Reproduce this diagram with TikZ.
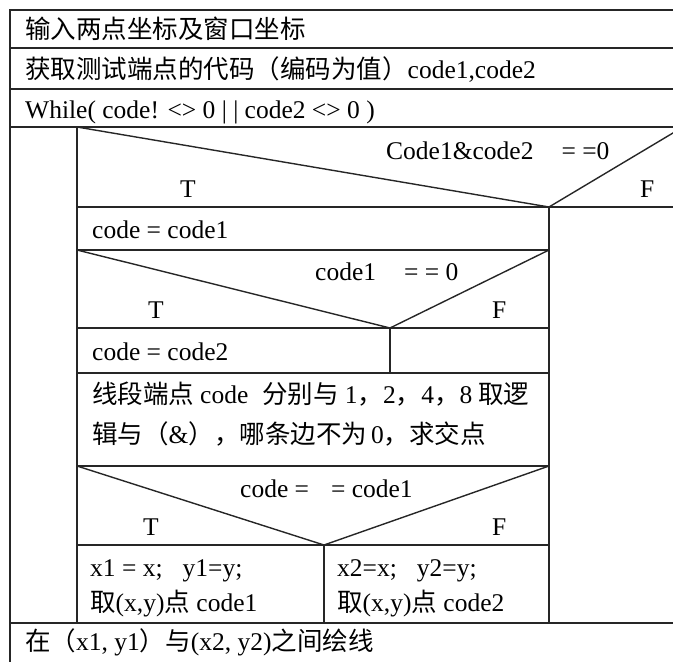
\documentclass[tikz,border=0pt]{standalone}
\usepackage{fontspec}
\setmainfont{Liberation Serif}
\newfontfamily\cjk{Noto Sans CJK SC}[Scale=1.0]
\begin{document}
\begin{tikzpicture}[x=1pt,y=-1pt,
  lbl/.style={anchor=base west,inner sep=0pt,font=\fontsize{25.5}{30}\selectfont},
  rule/.style={line width=1.4pt,draw=black!85}]
\useasboundingbox (0,0) rectangle (673,662);
\clip (0,0) rectangle (673,662);
% outer frame
\draw[rule] (10,662) -- (10,10) -- (690,10);
\draw[rule] (10,48) -- (690,48);
\draw[rule] (10,89) -- (690,89);
\draw[rule] (10,127) -- (690,127);
\draw[rule] (10,623) -- (690,623);
% inner column
\draw[rule] (77,127) -- (77,623);
\draw[rule] (549,207) -- (549,623);
\draw[rule] (77,207) -- (690,207);
\draw[rule] (77,250) -- (549,250);
\draw[rule] (77,328) -- (549,328);
\draw[rule] (77,373) -- (549,373);
\draw[rule] (77,466) -- (549,466);
\draw[rule] (77,545) -- (549,545);
\draw[rule] (390,328) -- (390,373);
\draw[rule] (324,545) -- (324,623);
% decision triangles
\draw[rule] (77,127) -- (549,207) -- (683,127);
\draw[rule] (77,250) -- (390,328) -- (549,250);
\draw[rule] (77,466) -- (324,545) -- (549,466);
% texts
\node[lbl] (t1) at (25,38) {\cjk 输入两点坐标及窗口坐标};
\node[lbl] (t2) at (25,78) {{\cjk 获取测试端点的代码（编码为值）}code1,code2};
\node[lbl] (t3) at (25,118) {While( code! <> 0 | | code2 <> 0 )};
\node[lbl] (c1) at (386,159) {Code1\&code2\hspace{28pt}= =0};
\node[lbl] (c1t) at (180,197) {T};
\node[lbl] (c1f) at (640,197) {F};
\node[lbl] (a1) at (92,238) {code = code1};
\node[lbl] (c2) at (315,280) {code1\hspace{28pt}= = 0};
\node[lbl] (c2t) at (148,318) {T};
\node[lbl] (c2f) at (492,318) {F};
\node[lbl] (a2) at (92,360) {code = code2};
\node[lbl] (p1) at (92,403) {{\cjk 线段端点}\hspace{6pt}code\hspace{14pt}{\cjk 分别与}\hspace{6pt}1{\cjk ，}2{\cjk ，}4{\cjk ，}8\hspace{6pt}{\cjk 取逻}};
\node[lbl] (p2) at (92,443) {{\cjk 辑与（}\&{\cjk ），哪条边不为}\hspace{4pt}0{\cjk ，求交点}};
\node[lbl] (c3) at (240,497) {code =\hspace{22pt}= code1};
\node[lbl] (c3t) at (143,535) {T};
\node[lbl] (c3f) at (492,535) {F};
\node[lbl] (b1) at (90,576) {x1 = x;\hspace{20pt}y1=y;};
\node[lbl] (b2) at (90,611) {{\cjk 取}(x,y){\cjk 点} code1};
\node[lbl] (b3) at (337,576) {x2=x;\hspace{20pt}y2=y;};
\node[lbl] (b4) at (337,611) {{\cjk 取}(x,y){\cjk 点} code2};
\node[lbl] (t4) at (25,650) {{\cjk 在（}x1, y1{\cjk ）与}(x2, y2){\cjk 之间绘线}};
\end{tikzpicture}
\end{document}
